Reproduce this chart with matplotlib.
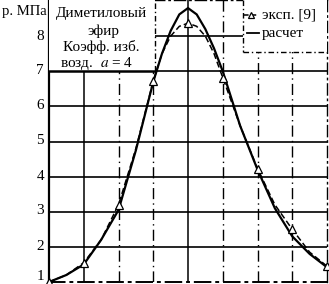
import matplotlib
matplotlib.use("Agg")
import matplotlib.pyplot as plt
from matplotlib.patches import Rectangle
from matplotlib.lines import Line2D

# ---- data (x in grid units 0..8, pressure in MPa) ----
calc_x = [0, 0.5, 1, 1.5, 2, 2.5, 3, 3.25, 3.5, 3.75, 4, 4.25, 4.5, 4.75, 5, 5.5, 6, 6.5, 7, 7.5, 8]
calc_y = [1.0, 1.2, 1.5, 2.2, 3.05, 4.75, 6.7, 7.5, 8.15, 8.62, 8.8, 8.62, 8.2, 7.65, 7.0, 5.45, 4.2, 3.1, 2.3, 1.8, 1.42]

exp_x = [0, 1, 2, 3, 4, 5, 6, 7, 8]
exp_y = [1.0, 1.55, 3.2, 6.72, 8.37, 6.82, 4.23, 2.5, 1.45]

exp_line_x = [0, 0.5, 1, 1.5, 2, 2.5, 3, 3.25, 3.5, 3.75, 4, 4.25, 4.5, 4.75, 5, 5.5, 6, 6.5, 7, 7.5, 8]
exp_line_y = [1.0, 1.2, 1.55, 2.2, 3.2, 4.8, 6.72, 7.5, 8.0, 8.28, 8.37, 8.28, 8.0, 7.5, 6.82, 5.45, 4.23, 3.2, 2.5, 1.85, 1.45]

y_ticks = [1, 2, 3, 4, 5, 6, 7, 8]
y_label = "р. МПа"
box_lines = ["Диметиловый", "эфир", "Коэфф. изб.", "возд.  $a$ = 4"]
legend_labels = ["эксп. [9]", "расчет"]

W, H = 329, 284
plt.rcParams['font.family'] = ['Liberation Serif', 'DejaVu Serif']
plt.rcParams['mathtext.fontset'] = 'stix'
fig = plt.figure(figsize=(W / 100, H / 100), dpi=100)

def fx(x):
    return x / W

def fy(y):
    return 1 - y / H

ax = fig.add_axes([fx(49), fy(282), (327 - 49) / W, (282 - 0) / H])
ax.set_xlim(0, 8)
ax.set_ylim(1, 9.03)
FT = fig.transFigure

# grid
for y in y_ticks[1:]:
    ax.axhline(y, color='black', lw=1.2, zorder=1)
solid_v = [1, 4]
for x in range(1, 8):
    if x in solid_v:
        ax.axvline(x, color='black', lw=1.1, zorder=1)
    else:
        ax.axvline(x, color='black', lw=1.0, ls=(0, (8, 3, 1, 3)), zorder=1)

for s in ['top', 'right', 'bottom']:
    ax.spines[s].set_linestyle((0, (8, 3, 1, 3)))
    ax.spines[s].set_linewidth(1.0)
ax.spines['bottom'].set_linewidth(1.4)
ax.spines['left'].set_linewidth(1.6)

ax.set_xticks([])
ax.set_yticks(y_ticks)
ax.set_yticklabels([])
ax.tick_params(axis='y', length=0)
for v in y_ticks:
    py = 281 - (v - 1) * 35
    if v == 1:
        py = 277
    ax.text(fx(44), fy(py), str(v), transform=FT, ha='right', va='center', fontsize=11, clip_on=False)

# curves
ax.plot(calc_x, calc_y, color='black', lw=1.6, zorder=3)
ax.plot(exp_line_x, exp_line_y, color='black', lw=1.1, ls=(0, (4, 2)), zorder=3)
ax.plot(exp_x, exp_y, ls='none', marker='^', ms=6, mfc='white', mec='black', mew=0.9, zorder=4, clip_on=False)

# left text box
box = Rectangle((0, 7), 3.05, 2.03, facecolor='white', edgecolor='none', zorder=5)
ax.add_patch(box)
ax.plot([0, 3.05], [7, 7], color='black', lw=1.8, zorder=6)
ax.plot([3.05, 3.05], [7, 9.03], color='black', lw=1.0, ls=(0, (4, 2, 1, 2)), zorder=6)
for txt, (x, y) in zip(box_lines, [(101, 13), (103, 31), (101, 47), (97, 63)]):
    ax.text(fx(x), fy(y), txt, transform=FT, ha='center', va='center', fontsize=11, zorder=7)

# legend box
leg = Rectangle((fx(243), fy(52)), fx(327) - fx(243), fy(0) - fy(52),
                transform=FT, facecolor='white', edgecolor='none', zorder=5, clip_on=False)
ax.add_patch(leg)
def fl(xs, ys, **kw):
    ln = Line2D([fx(v) for v in xs], [fy(v) for v in ys], transform=FT, clip_on=False, **kw)
    ax.add_line(ln)
fl([243, 243], [0, 52], color='black', lw=1.0, ls=(0, (4, 2, 1, 2)), zorder=6)
fl([243, 327], [52, 52], color='black', lw=1.0, ls=(0, (4, 2, 1, 2)), zorder=6)
fl([244, 259], [15, 15], color='black', lw=1.1, ls=(0, (3, 2)), zorder=6)
fl([251.5], [15], marker='^', ms=5, mfc='white', mec='black', mew=0.9, zorder=7, ls='none')
fl([247, 259], [33, 33], color='black', lw=1.3, zorder=6)
ax.text(fx(262), fy(15), legend_labels[0], transform=FT, ha='left', va='center', fontsize=11, zorder=7)
ax.text(fx(262), fy(33), legend_labels[1], transform=FT, ha='left', va='center', fontsize=11, zorder=7)

# y label
ax.text(fx(47), fy(11), y_label, transform=FT, ha='right', va='center', fontsize=10.5, clip_on=False)

fig.savefig("out.png", dpi=100, facecolor='white')
